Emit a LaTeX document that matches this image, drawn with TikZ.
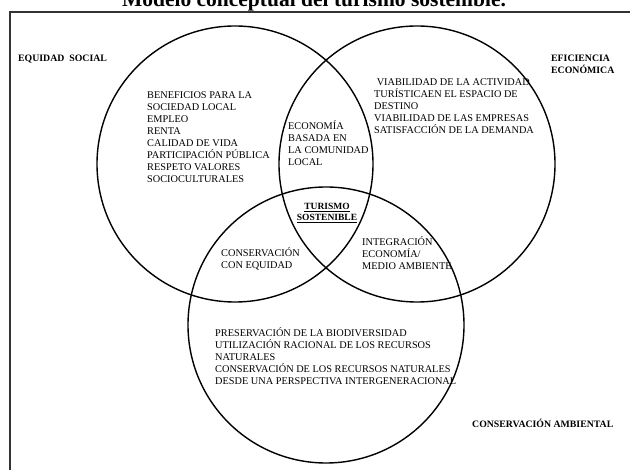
\documentclass[tikz,border=0pt]{standalone}
\usepackage{fontspec}
\setmainfont{Liberation Serif}
\begin{document}
\begin{tikzpicture}[x=1pt,y=-1pt,
  txt/.style={anchor=base west,inner sep=0pt,align=left,font=\fontsize{10.3}{12}\selectfont},
  lbl/.style={anchor=base west,inner sep=0pt,align=left,font=\fontsize{9.8}{12.5}\selectfont\bfseries},
  ring/.style={draw=black,line width=1.4pt}]
\useasboundingbox (0,0) rectangle (630,470);
\draw[line width=1.3pt,draw=black!80] (10,490) -- (10,12) -- (650,12);
\node[anchor=base,inner sep=0pt,font=\fontsize{21.5}{24}\selectfont\bfseries] (title) at (314,7) {Modelo conceptual del turismo sostenible.};
\draw[ring] (235,164) circle (138);
\draw[ring] (417,164) circle (138);
\draw[ring] (326,325) circle (138);
\node[lbl] (eq) at (18,61.5) {EQUIDAD\ \ SOCIAL};
\node[lbl] (ef) at (551,74) {EFICIENCIA\\ECONÓMICA};
\node[lbl] (ca) at (472,427.5) {CONSERVACIÓN AMBIENTAL};
\node[txt] (soc) at (147,182.5) {BENEFICIOS PARA LA\\SOCIEDAD LOCAL\\EMPLEO\\RENTA\\CALIDAD DE VIDA\\PARTICIPACIÓN PÚBLICA\\RESPETO VALORES\\SOCIOCULTURALES};
\node[txt] (eco) at (288,165.5) {ECONOMÍA\\BASADA EN\\LA COMUNIDAD\\LOCAL};
\node[txt] (via) at (374,133.5) {\ VIABILIDAD DE LA ACTIVIDAD\\TURÍSTICAEN EL ESPACIO DE\\DESTINO\\VIABILIDAD DE LAS EMPRESAS\\SATISFACCIÓN DE LA DEMANDA};
\node[anchor=base,inner sep=0pt,align=center,font=\fontsize{9.5}{11}\selectfont\bfseries] (ts) at (327,220.5) {\underline{TURISMO}\\\underline{SOSTENIBLE}};
\node[txt] (ceq) at (221,268.5) {CONSERVACIÓN\\CON EQUIDAD};
\node[txt] (int) at (362,269.5) {INTEGRACIÓN\\ECONOMÍA/\\MEDIO AMBIENTE};
\node[txt] (bio) at (215,384.5) {PRESERVACIÓN DE LA BIODIVERSIDAD\\UTILIZACIÓN RACIONAL DE LOS RECURSOS\\NATURALES\\CONSERVACIÓN DE LOS RECURSOS NATURALES\\DESDE UNA PERSPECTIVA INTERGENERACIONAL};
\end{tikzpicture}
\end{document}
